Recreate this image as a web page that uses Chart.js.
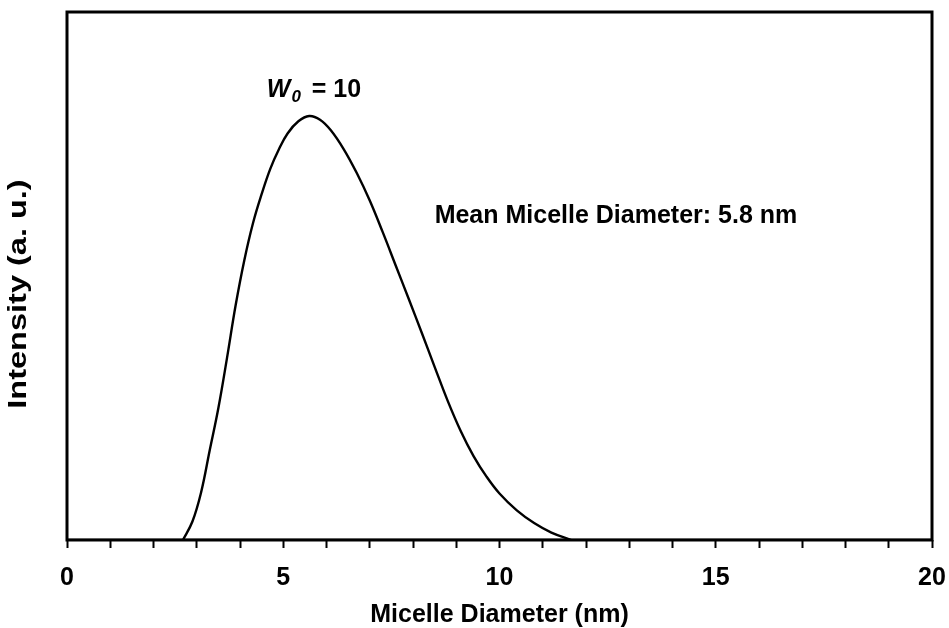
<!DOCTYPE html>
<html>
<head>
<meta charset="utf-8">
<script src="https://cdn.jsdelivr.net/npm/chart.js@4.4.3/dist/chart.umd.min.js"></script>
<style>
  html, body { margin: 0; padding: 0; background: #fff; }
</style>
</head>
<body>
<canvas id="chart" width="949" height="628"></canvas>
<script>
// Size distribution (diameter in nm, intensity in a.u.)
const diameter = [2.68, 2.9, 3.1, 3.3, 3.5, 3.7, 3.9, 4.1, 4.3, 4.5, 4.7, 4.9, 5.1, 5.35, 5.6,
                  5.85, 6.1, 6.4, 6.7, 7.0, 7.3, 7.6, 7.9, 8.2, 8.5, 8.8, 9.1, 9.4, 9.7,
                  10.0, 10.4, 10.8, 11.2, 11.66];
const intensity = [0, 3.5, 9, 17, 25, 34.5, 44.5, 53, 60, 65.5, 70.3, 74, 77, 79.3, 80.3,
                   79.6, 77.6, 74, 69.5, 64.3, 58.3, 52, 45.7, 39.3, 32.8, 26.4, 20.7, 15.9, 12,
                   8.8, 5.6, 3.2, 1.4, 0];
// flat zero baseline either side of the peak
const baseX = [0, 2.68, 11.66, 20];
const baseY = [0, 0, 0, 0];

const xTickLabels = [0, 5, 10, 15, 20];
const xTitle = 'Micelle Diameter (nm)';
const yTitle = 'Intensity (a. u.)';
const peakLabel = { main: 'W', sub: '0', rest: ' = 10', x: 4.62, y: 83.9 };
const meanLabel = { text: 'Mean Micelle Diameter: 5.8 nm', x: 8.50, y: 60.0 };

const FONT = '"Liberation Sans", Arial, sans-serif';

const frameAndText = {
  id: 'frameAndText',
  afterDraw(chart) {
    const { ctx, chartArea: a, scales } = chart;
    ctx.save();
    ctx.strokeStyle = '#000';
    ctx.lineWidth = 3;
    ctx.strokeRect(a.left, a.top, a.right - a.left, a.bottom - a.top);

    ctx.fillStyle = '#000';
    ctx.textBaseline = 'alphabetic';

    // W0 = 10
    let px = scales.x.getPixelForValue(peakLabel.x);
    const py = scales.y.getPixelForValue(peakLabel.y);
    ctx.font = 'italic bold 25px ' + FONT;
    ctx.fillText(peakLabel.main, px, py);
    px += ctx.measureText(peakLabel.main).width + 1;
    ctx.font = 'italic bold 17px ' + FONT;
    ctx.fillText(peakLabel.sub, px, py + 5);
    px += ctx.measureText(peakLabel.sub).width + 4;
    ctx.font = 'bold 25px ' + FONT;
    ctx.fillText(peakLabel.rest, px, py);

    // mean diameter note
    ctx.fillText(meanLabel.text, scales.x.getPixelForValue(meanLabel.x), scales.y.getPixelForValue(meanLabel.y));

    // y axis title (stretched along its length like the original)
    ctx.translate(19, 294);
    ctx.rotate(-Math.PI / 2);
    ctx.scale(1.3, 1);
    ctx.textAlign = 'center';
    ctx.textBaseline = 'middle';
    ctx.fillText(yTitle, 0, 0);
    ctx.restore();
  }
};

new Chart(document.getElementById('chart'), {
  type: 'scatter',
  data: {
    datasets: [
      {
        data: diameter.map((d, i) => ({ x: d, y: intensity[i] })),
        showLine: true,
        borderColor: '#000',
        borderWidth: 2.4,
        pointRadius: 0,
        tension: 0.4,
        fill: false
      },
      {
        data: baseX.map((d, i) => ({ x: d, y: baseY[i] })),
        showLine: true,
        borderColor: '#000',
        borderWidth: 2.4,
        pointRadius: 0
      }
    ]
  },
  options: {
    responsive: false,
    animation: false,
    devicePixelRatio: 1,
    layout: { padding: { left: 67, right: 17, top: 12, bottom: 0 } },
    plugins: { legend: { display: false }, tooltip: { enabled: false } },
    scales: {
      x: {
        type: 'linear',
        min: 0,
        max: 20,
        afterFit(scale) {
          scale.height = 88;
          scale.paddingLeft = 0;
          scale.paddingRight = 0;
        },
        border: { display: false },
        grid: { drawOnChartArea: false, drawTicks: true, tickLength: 8, tickWidth: 2, tickColor: '#000' },
        ticks: {
          stepSize: 1,
          autoSkip: false,
          maxRotation: 0,
          padding: 15,
          color: '#000',
          font: { family: FONT, size: 25, weight: 'bold' },
          callback: v => xTickLabels.includes(v) ? String(v) : ''
        },
        title: {
          display: true,
          text: xTitle,
          color: '#000',
          font: { family: FONT, size: 25, weight: 'bold' },
          padding: { top: 0, bottom: -2 }
        }
      },
      y: {
        type: 'linear',
        min: 0,
        max: 100,
        display: false
      }
    }
  },
  plugins: [frameAndText]
});
</script>
</body>
</html>
